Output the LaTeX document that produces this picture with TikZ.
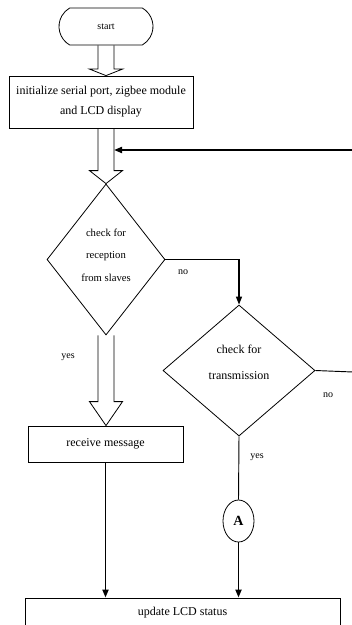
\documentclass[tikz,border=0pt]{standalone}
\usepackage{fontspec}
\setmainfont{Liberation Serif}
\usetikzlibrary{shapes.geometric,shapes.misc,arrows.meta,calc}
\newcommand{\blockarr}[3]{%
  \draw[blkarrow] let \p1=(#1), \p2=(#2) in
    (\x1-6pt,\y1) -- (\x1-6pt,\y2+#3) -- (\x1-12.4pt,\y2+#3) -- (\x1,\y2)
    -- (\x1+12.4pt,\y2+#3) -- (\x1+6pt,\y2+#3) -- (\x1+6pt,\y1);}
\tikzset{
  thinline/.style={draw=black, line width=0.6pt},
  procbox/.style={thinline, rectangle, inner sep=0pt, align=center, font=\fontsize{9}{15}\selectfont},
  startbox/.style={thinline, rounded rectangle, rounded rectangle arc length=120, inner sep=0pt,
     minimum width=70.5pt, minimum height=27.75pt, font=\fontsize{7.5}{9}\selectfont},
  dec/.style={thinline, diamond, inner sep=0pt},
  dtext/.style={align=center, inner sep=0pt},
  circ/.style={thinline, ellipse, inner sep=0pt, minimum width=23.25pt, minimum height=31.5pt,
     font=\fontsize{10.5}{12}\selectfont\bfseries},
  lbl/.style={inner sep=0pt, font=\fontsize{7.5}{9}\selectfont},
  blkarrow/.style={draw=black, line width=0.6pt, line join=miter},
  thk/.style={draw=black, line width=1.4pt, -{Triangle[length=6pt,width=4.5pt]}},
  med/.style={draw=black, line width=1pt, -{Triangle[length=6pt,width=4.5pt]}},
  plain/.style={draw=black, line width=0.7pt},
}
\begin{document}
\begin{tikzpicture}[x=0.75pt,y=-0.75pt]
\useasboundingbox (0,0) rectangle (352,625);
% nodes
\node[startbox] (start) at (106,26.5) {start};
\node[procbox, minimum width=138pt, minimum height=39pt] (init) at (101,102)
  {initialize serial port, zigbee module\\and LCD display};
\node[dec, minimum width=88.5pt, minimum height=113.25pt] (d1) at (106,259.5) {};
\node[dtext, font=\fontsize{8}{17}\selectfont] (d1t) at (106,255) {check for\\reception\\from slaves};
\node[dec, minimum width=114pt, minimum height=98.25pt] (d2) at (239,370.5) {};
\node[dtext, font=\fontsize{9}{19.5}\selectfont] (d2t) at (239,362) {check for\\transmission};
\node[procbox, minimum width=116.25pt, minimum height=27pt] (recv) at (105.5,444) {receive message};
\node[circ] (A) at (238.5,521) {A};
\node[procbox, minimum width=236.25pt, minimum height=21.75pt] (upd) at (182.5,612.5) {update LCD status};
% labels
\node[lbl] (no1) at (183,272) {no};
\node[lbl] (yes1) at (68,357) {yes};
\node[lbl] (no2) at (328,395) {no};
\node[lbl] (yes2) at (257,457) {yes};
% coordinates for free ends
\coordinate (fbstart) at (352,150);
\coordinate (fbend) at (114,150);
\coordinate (d2out) at (353,372);
% block arrows
\blockarr{start.south}{init.north -| start.south}{4.9pt}
\blockarr{init.south -| d1.north}{d1.north}{9.75pt}
\blockarr{d1.south}{recv.north -| d1.south}{18pt}
% connectors
\draw[thk] (fbstart) -- (fbend);
\draw[med] (d1.east) -| (d2.north);
\draw[plain] (d2.east) -- (d2out);
\draw[plain] (d2.south) -- (A.north);
\draw[thk] (A.south) -- (A.south |- upd.north);
\draw[thk] (recv.south) -- (recv.south |- upd.north);
\end{tikzpicture}
\end{document}
